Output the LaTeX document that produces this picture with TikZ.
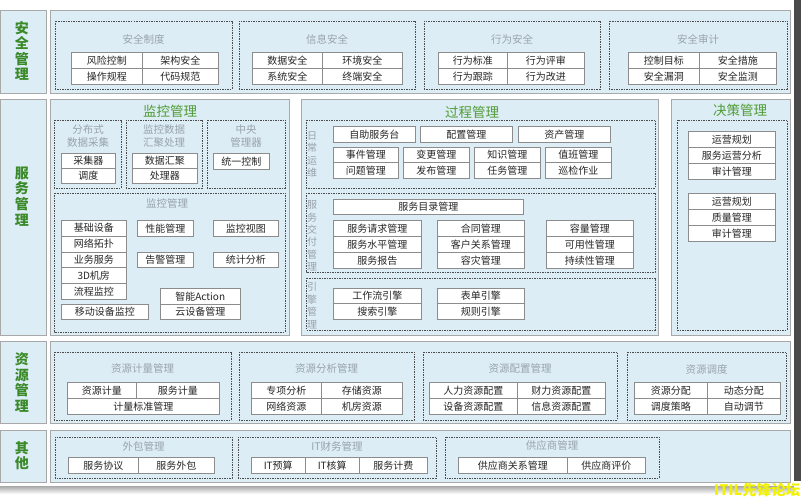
\documentclass[tikz,border=0pt]{standalone}
\usepackage{fontspec}
\setmainfont{Noto Sans CJK SC}
\usepackage{xcolor}
\usetikzlibrary{positioning}
\definecolor{panelblue}{HTML}{DDEDF5}
\definecolor{framegray}{HTML}{A8A8A8}
\definecolor{leafgreen}{HTML}{3B8A2A}
\definecolor{headgreen}{HTML}{4F9C35}
\definecolor{titlegray}{HTML}{98A3AD}
\definecolor{edgedark}{HTML}{4A4A4A}
\definecolor{markyellow}{HTML}{F2F200}

\begin{document}
\begin{tikzpicture}[x=1pt,y=-1pt,
  panel/.style={draw=framegray,fill=panelblue,line width=0.8pt},
  group/.style={draw=black!70,dash pattern=on 1.5pt off 1pt,line width=0.5pt},
  cell/.style={draw=black!45,fill=white,line width=0.5pt,inner sep=0pt,anchor=north west,minimum height=16pt,text=black!85,font=\fontsize{10}{12}\selectfont},
  rowlabel/.style={text=leafgreen,font=\fontsize{14}{15.6}\selectfont\bfseries,align=center},
  headline/.style={text=headgreen,font=\fontsize{13.5}{15}\selectfont},
  grouptitle/.style={text=titlegray,font=\fontsize{10.5}{13}\selectfont,align=center},
  sidetitle/.style={text=titlegray,font=\fontsize{10}{12.4}\selectfont,align=center}]
\useasboundingbox (0,0) rectangle (801,502);
\fill[white] (0,0) rectangle (801,502);
\fill[edgedark] (794,0) rectangle (801,481);
\shade[top color=black!30,bottom color=white] (0,487) rectangle (794,494);

% 安全管理
\draw[panel] (0.5,10) rectangle (46,93);
\draw[panel] (50,10) rectangle (790,93);
\node[rowlabel] (aqgl) at (22,51) {安\\全\\管\\理};
\draw[group] (55,21) rectangle (232,89);
\draw[group] (239,21) rectangle (415,89);
\draw[group] (424,21) rectangle (600,89);
\draw[group] (609,21) rectangle (787,89);
\node[grouptitle] (aqzd) at (143.5,39) {安全制度};
\node[grouptitle] (xxaq) at (327,39) {信息安全};
\node[grouptitle] (xwaq) at (512,39) {行为安全};
\node[grouptitle] (aqsj) at (698,39) {安全审计};
\node[cell,minimum width=71] (fxkz) at (71,52) {风险控制};
\node[cell,minimum width=76] (jgaq) at (142,52) {架构安全};
\node[cell,minimum width=71] (czgc) at (71,68) {操作规程};
\node[cell,minimum width=76] (dmgf) at (142,68) {代码规范};
\node[cell,minimum width=70] (sjaq) at (252,52) {数据安全};
\node[cell,minimum width=80] (hjaq) at (322,52) {环境安全};
\node[cell,minimum width=70] (xtaq) at (252,68) {系统安全};
\node[cell,minimum width=80] (zdaq) at (322,68) {终端安全};
\node[cell,minimum width=69] (xwbz) at (438,52) {行为标准};
\node[cell,minimum width=77] (xwps) at (507,52) {行为评审};
\node[cell,minimum width=69] (xwgz) at (438,68) {行为跟踪};
\node[cell,minimum width=77] (xwgj) at (507,68) {行为改进};
\node[cell,minimum width=71] (kzmb) at (628,52) {控制目标};
\node[cell,minimum width=77] (aqcs) at (699,52) {安全措施};
\node[cell,minimum width=71] (aqld) at (628,68) {安全漏洞};
\node[cell,minimum width=77] (aqjc) at (699,68) {安全监测};

% 服务管理
\draw[panel] (0.5,99) rectangle (46,335);
\node[rowlabel] (fwgl) at (22,196.5) {服\\务\\管\\理};
\draw[panel] (50,99) rectangle (289,335);
\draw[panel] (301,99) rectangle (658,335);
\draw[panel] (671,99) rectangle (790,335);
\node[headline] (jkglhead) at (170,111) {监控管理};
\node[headline] (gcglhead) at (472,112) {过程管理};
\node[headline] (jcglhead) at (740,110) {决策管理};

\draw[group] (54,120) rectangle (121,188);
\draw[group] (126,120) rectangle (202,188);
\draw[group] (207,120) rectangle (285,188);
\node[grouptitle] (fbscj) at (88,136.5) {分布式\\数据采集};
\node[grouptitle] (jkhj) at (164,136.5) {监控数据\\汇聚处理};
\node[grouptitle] (zyglq) at (246,136.5) {中央\\管理器};
\node[cell,minimum width=54,minimum height=15] (cjq) at (61,153) {采集器};
\node[cell,minimum width=54,minimum height=15] (dd) at (61,168) {调度};
\node[cell,minimum width=65,minimum height=15] (sjhj) at (132,153) {数据汇聚};
\node[cell,minimum width=65,minimum height=15] (clq) at (132,168) {处理器};
\node[cell,minimum width=56] (tykz) at (213,153) {统一控制};

\draw[group] (54,193) rectangle (285,332);
\node[grouptitle] (jkgl) at (167,203) {监控管理};
\node[cell,minimum width=65,minimum height=15.8] (jcsb) at (61,220) {基础设备};
\node[cell,minimum width=65,minimum height=15.8] (wltp) at (61,235.8) {网络拓扑};
\node[cell,minimum width=65,minimum height=15.8] (ywfw) at (61,251.6) {业务服务};
\node[cell,minimum width=65,minimum height=15.8] (jf) at (61,267.4) {3D机房};
\node[cell,minimum width=65,minimum height=15.8] (lcjk) at (61,283.2) {流程监控};
\node[cell,minimum width=56] (xngl) at (137,220) {性能管理};
\node[cell,minimum width=65] (jkst) at (213,220) {监控视图};
\node[cell,minimum width=56,minimum height=15] (gjgl) at (137,252) {告警管理};
\node[cell,minimum width=65,minimum height=15] (tjfx) at (213,252) {统计分析};
\node[cell,minimum width=80] (znac) at (160,288) {智能Action};
\node[cell,minimum width=80,minimum height=15] (ysbgl) at (160,304) {云设备管理};
\node[cell,minimum width=87,minimum height=15] (ydsb) at (61,304) {移动设备监控};

\draw[group] (306,120) rectangle (655,188);
\node[sidetitle] (rcyw) at (312,154.5) {日\\常\\运\\维};
\node[cell,minimum width=82] (zzfw) at (333,126) {自助服务台};
\node[cell,minimum width=92] (pzgl) at (420,126) {配置管理};
\node[cell,minimum width=92] (zcgl) at (518,126) {资产管理};
\node[cell,minimum width=65,minimum height=15.5] (sjgl) at (333,147) {事件管理};
\node[cell,minimum width=66,minimum height=15.5] (bggl) at (403,147) {变更管理};
\node[cell,minimum width=66,minimum height=15.5] (zsgl) at (474,147) {知识管理};
\node[cell,minimum width=66,minimum height=15.5] (zbgl) at (545,147) {值班管理};
\node[cell,minimum width=65,minimum height=15.5] (wtgl) at (333,162.5) {问题管理};
\node[cell,minimum width=66,minimum height=15.5] (fbgl) at (403,162.5) {发布管理};
\node[cell,minimum width=66,minimum height=15.5] (rwgl) at (474,162.5) {任务管理};
\node[cell,minimum width=66,minimum height=15.5] (xjzy) at (545,162.5) {巡检作业};

\draw[group] (306,193) rectangle (655,272);
\node[sidetitle] (fwjf) at (312,236) {服\\务\\交\\付\\管\\理};
\node[cell,minimum width=190,minimum height=15] (fwml) at (333,199) {服务目录管理};
\node[cell,minimum width=88] (fwqq) at (333,220) {服务请求管理};
\node[cell,minimum width=88] (fwsp) at (333,236) {服务水平管理};
\node[cell,minimum width=88] (fwbg) at (333,252) {服务报告};
\node[cell,minimum width=87] (htgl) at (437,220) {合同管理};
\node[cell,minimum width=87] (khgx) at (437,236) {客户关系管理};
\node[cell,minimum width=87] (rzgl) at (437,252) {容灾管理};
\node[cell,minimum width=87] (rlgl) at (546,220) {容量管理};
\node[cell,minimum width=87] (kyx) at (546,236) {可用性管理};
\node[cell,minimum width=87] (cxx) at (546,252) {持续性管理};

\draw[group] (306,278) rectangle (655,330);
\node[sidetitle] (yqgl) at (312,305.5) {引\\擎\\管\\理};
\node[cell,minimum width=88,minimum height=15.5] (gzl) at (333,288) {工作流引擎};
\node[cell,minimum width=88,minimum height=15.5] (ss) at (333,303.5) {搜索引擎};
\node[cell,minimum width=87,minimum height=15.5] (bd) at (437,288) {表单引擎};
\node[cell,minimum width=87,minimum height=15.5] (gz) at (437,303.5) {规则引擎};

\draw[group] (677,120) rectangle (787,330);
\node[cell,minimum width=87] (yygh) at (688,131) {运营规划};
\node[cell,minimum width=87] (fwyy) at (688,147) {服务运营分析};
\node[cell,minimum width=87] (sjgla) at (688,163) {审计管理};
\node[cell,minimum width=87] (yyghb) at (688,193) {运营规划};
\node[cell,minimum width=87] (zlgl) at (688,209) {质量管理};
\node[cell,minimum width=87] (sjglb) at (688,225) {审计管理};

% 资源管理
\draw[panel] (0.5,341) rectangle (46,423);
\draw[panel] (50,341) rectangle (790,423);
\node[rowlabel] (zygl) at (22,382.5) {资\\源\\管\\理};
\draw[group] (54,352) rectangle (231,420);
\draw[group] (239,352) rectangle (414,420);
\draw[group] (423,352) rectangle (617,420);
\draw[group] (627,352) rectangle (786,420);
\node[grouptitle] (zyjl) at (142.5,369) {资源计量管理};
\node[grouptitle] (zyfx) at (326.5,369) {资源分析管理};
\node[grouptitle] (zypz) at (520,369) {资源配置管理};
\node[grouptitle] (zydd) at (706.5,369) {资源调度};
\node[cell,minimum width=69] (zyjlc) at (67,382) {资源计量};
\node[cell,minimum width=83] (fwjl) at (136,382) {服务计量};
\node[cell,minimum width=152] (jlbz) at (67,398) {计量标准管理};
\node[cell,minimum width=70] (zxfx) at (251,382) {专项分析};
\node[cell,minimum width=81] (cczy) at (321,382) {存储资源};
\node[cell,minimum width=70] (wlzy) at (251,398) {网络资源};
\node[cell,minimum width=81] (jfzy) at (321,398) {机房资源};
\node[cell,minimum width=88] (rlzy) at (429,382) {人力资源配置};
\node[cell,minimum width=88] (clzy) at (517,382) {财力资源配置};
\node[cell,minimum width=88] (sbzy) at (429,398) {设备资源配置};
\node[cell,minimum width=88] (xxzy) at (517,398) {信息资源配置};
\node[cell,minimum width=73] (zyfp) at (634,382) {资源分配};
\node[cell,minimum width=73] (dtfp) at (707,382) {动态分配};
\node[cell,minimum width=73] (ddcl) at (634,398) {调度策略};
\node[cell,minimum width=73] (zdtj) at (707,398) {自动调节};

% 其他
\draw[panel] (0.5,430) rectangle (46,482);
\draw[panel] (50,430) rectangle (790,482);
\node[rowlabel] (qt) at (22,455.5) {其\\他};
\draw[group] (55,437) rectangle (232,478);
\draw[group] (238,437) rectangle (436,478);
\draw[group] (445,437) rectangle (659,478);
\node[grouptitle] (wbgl) at (143.5,446) {外包管理};
\node[grouptitle] (itcw) at (337,446) {IT财务管理};
\node[grouptitle] (gysgl) at (552,446) {供应商管理};
\node[cell,minimum width=70] (fwxy) at (68,457) {服务协议};
\node[cell,minimum width=76] (fwwb) at (138,457) {服务外包};
\node[cell,minimum width=54] (ityc) at (251,457) {IT预算};
\node[cell,minimum width=54] (iths) at (305,457) {IT核算};
\node[cell,minimum width=68] (fwjfei) at (359,457) {服务计费};
\node[cell,minimum width=109] (gysgx) at (458,457) {供应商关系管理};
\node[cell,minimum width=78] (gyspj) at (567,457) {供应商评价};

\node[anchor=east,inner sep=0.5pt,text=markyellow,font=\fontsize{14.5}{15}\selectfont\bfseries] (mark) at (801,490) {ITIL先锋论坛};
\end{tikzpicture}
\end{document}
